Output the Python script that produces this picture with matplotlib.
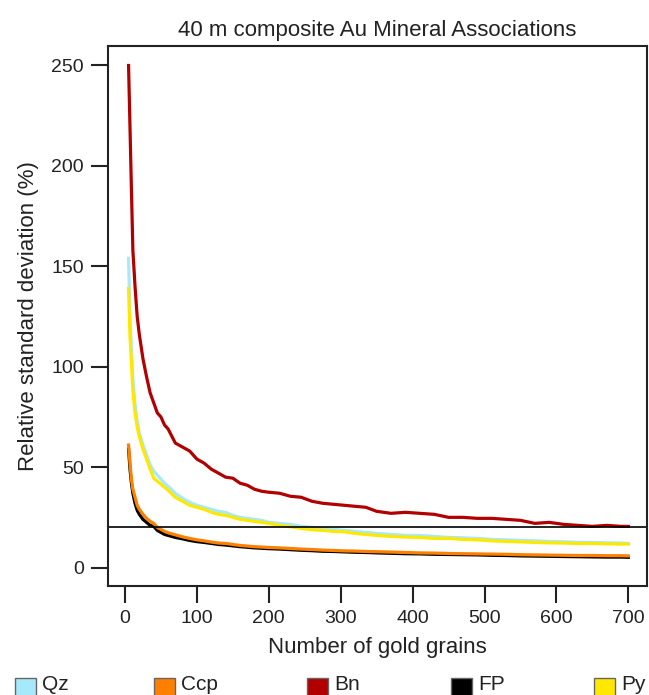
import matplotlib
matplotlib.use('Agg')
import matplotlib.pyplot as plt
from matplotlib.patches import Rectangle

plt.rcParams['font.family'] = ['Liberation Sans', 'DejaVu Sans']

# number of gold grains (sample points)
grains = [5, 7, 9, 11, 14, 17, 20, 25, 30, 35, 40, 45, 50, 55, 60, 70, 80, 90, 100,
          110, 120, 130, 140, 150, 160, 170, 180, 190, 200, 215, 230, 245, 260, 275,
          290, 305, 320, 335, 350, 370, 390, 410, 430, 450, 470, 490, 510, 530, 550,
          570, 590, 610, 630, 650, 670, 690, 700]

# relative standard deviation (%) for each mineral association
qz = [154, 125, 108, 94, 81, 73, 67, 61, 56, 51, 48, 46, 44, 42, 40.5, 37, 34.5, 32.5, 31,
      30, 29, 28, 27.5, 26, 25, 24.5, 24, 23.5, 22.5, 22, 21.5, 20.5, 20, 19.5,
      19, 18.5, 18, 17.5, 17, 16.5, 16, 16, 15.5, 15, 14.8, 14.5, 14, 13.8, 13.5,
      13.3, 13, 12.8, 12.6, 12.5, 12.3, 12.2, 12]
ccp = [61, 52, 44, 39, 35, 31, 29, 26.5, 24.5, 23, 22, 20, 19, 18, 17.3, 16.3, 15.3, 14.5, 13.8,
       13.3, 12.7, 12.2, 12, 11.5, 11, 10.7, 10.4, 10.2, 10, 9.8, 9.5, 9.2, 9, 8.7,
       8.5, 8.3, 8.2, 8, 7.9, 7.7, 7.5, 7.3, 7.2, 7, 6.9, 6.8, 6.7, 6.6, 6.4,
       6.3, 6.2, 6.1, 6.0, 6.0, 5.9, 5.9, 5.8]
bn = [250, 219, 188, 158, 140, 125, 116, 104, 95, 87, 82, 77, 75, 71, 69, 62, 60, 58, 54,
      52, 49, 47, 45, 44.5, 42, 41, 39, 38, 37.5, 37, 35.5, 35, 33, 32,
      31.5, 31, 30.5, 30, 28, 27, 27.5, 27, 26.5, 25, 25, 24.5, 24.5, 24, 23.5,
      22, 22.5, 21.5, 21, 20.5, 21, 20.5, 20.5]
fp = [59, 49, 42, 37, 32, 28.5, 26.5, 24, 22.5, 21, 20.5, 18.5, 17.5, 16.5, 16, 15, 14.3, 13.5, 12.9,
      12.5, 12, 11.5, 11.2, 10.8, 10.4, 10.1, 9.8, 9.6, 9.4, 9.2, 8.9, 8.6, 8.4, 8.1,
      8, 7.8, 7.6, 7.5, 7.3, 7.1, 6.9, 6.8, 6.6, 6.5, 6.4, 6.3, 6.1, 6.0, 5.8,
      5.7, 5.6, 5.5, 5.4, 5.3, 5.2, 5.2, 5.1]
py = [139, 115, 102, 88, 77, 70, 65, 59, 54, 49, 44.5, 43, 41.5, 40, 38.5, 35, 33, 31, 30,
      29, 27.5, 26.5, 26, 25, 24, 23.5, 23, 22.5, 22, 21, 20.3, 19.5, 18.8, 18.5,
      18, 17.8, 17, 16.5, 16, 15.5, 15.2, 15, 14.5, 14.5, 14, 13.8, 13.3, 13, 12.8,
      12.5, 12.3, 12.2, 12, 12, 11.8, 11.7, 11.7]

labels = ['Qz', 'Ccp', 'Bn', 'FP', 'Py']
colors = ['#A6E9FA', '#FF8000', '#B20000', '#000000', '#FFE800']
threshold = 20

fig = plt.figure(figsize=(6.49, 6.95), dpi=100)
ax = fig.add_axes([0.1664, 0.1568, 0.8306, 0.777])

# draw order: FP under Ccp, Qz under Py, Bn on top
ax.plot(grains, fp, color=colors[3], lw=2.3)
ax.plot(grains, ccp, color=colors[1], lw=2.3)
ax.plot(grains, qz, color=colors[0], lw=2.3)
ax.plot(grains, py, color=colors[4], lw=2.3)
ax.plot(grains, bn, color=colors[2], lw=2.3)
ax.axhline(threshold, color='black', lw=1.2)

ax.set_xlim(-23.6, 726)
ax.set_ylim(-9.2, 259.7)
ax.set_xticks(range(0, 701, 100))
ax.set_yticks(range(0, 251, 50))
ax.tick_params(direction='out', length=12.5, width=1.5, pad=5, labelsize=14,
               colors='#222222', labelcolor='#222222')
for s in ax.spines.values():
    s.set_linewidth(1.5)
    s.set_color('#222222')

ax.set_title('40 m composite Au Mineral Associations', fontsize=16, color='#222222', pad=7)
ax.set_xlabel('Number of gold grains', fontsize=16, color='#222222', labelpad=7)
ax.set_ylabel('Relative standard deviation (%)', fontsize=16, color='#222222', labelpad=9)

# legend along the bottom edge
W, H = 649, 695
patch_x = [15, 154, 307, 451, 594]
for lab, col, px in zip(labels, colors, patch_x):
    fig.add_artist(Rectangle((px / W, (H - 699) / H), 21 / W, 21 / H,
                             facecolor=col, edgecolor='#666666', lw=1.0,
                             transform=fig.transFigure))
    fig.text((px + 27) / W, (H - 690) / H, lab, fontsize=15, color='#222222',
             va='baseline', ha='left')

plt.savefig('out.png')
